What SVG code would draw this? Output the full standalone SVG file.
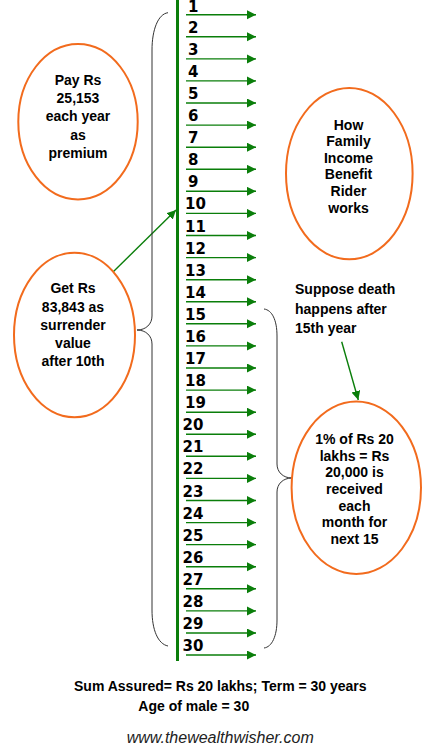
<svg xmlns="http://www.w3.org/2000/svg" width="428" height="751" viewBox="0 0 428 751">
<style>
.t{font-family:"Liberation Sans",Arial,sans-serif;font-weight:bold;font-size:14px;fill:#000}
.c{text-anchor:middle}
.n{font-family:"DejaVu Sans",sans-serif;font-weight:bold;font-size:15px;fill:#000}
.ell{fill:none;stroke:#F26B1D;stroke-width:2}
.arr{stroke:#0A7E0A;stroke-width:1.4;fill:none;marker-end:url(#ah)}
.brace{fill:none;stroke:#333;stroke-width:1}
.w{font-family:"Liberation Sans",Arial,sans-serif;font-style:italic;font-size:16px;fill:#222}
</style>
<defs>
<marker id="ah" markerUnits="userSpaceOnUse" markerWidth="10" markerHeight="10" refX="9" refY="4.5" orient="auto">
<path d="M0,0 L9,4.5 L0,9 z" fill="#0A7E0A"/>
</marker>
</defs>
<rect width="428" height="751" fill="#fff"/>
<g id="timeline">
<line x1="177.5" y1="0" x2="177.5" y2="661" stroke="#0A7E0A" stroke-width="3"/>
<g id="year-labels">
<text class="n" x="188" y="11.8">1</text>
<text class="n" x="188" y="32.8">2</text>
<text class="n" x="188" y="54.9">3</text>
<text class="n" x="188" y="76.9">4</text>
<text class="n" x="188" y="99">5</text>
<text class="n" x="188" y="121.1">6</text>
<text class="n" x="188" y="143.2">7</text>
<text class="n" x="188" y="165.3">8</text>
<text class="n" x="188" y="187.3">9</text>
<text class="n" x="185" y="209.4">10</text>
<text class="n" x="185" y="231.5">11</text>
<text class="n" x="185" y="253.6">12</text>
<text class="n" x="185" y="275.7">13</text>
<text class="n" x="185" y="297.7">14</text>
<text class="n" x="185" y="319.8">15</text>
<text class="n" x="185" y="341.9">16</text>
<text class="n" x="185" y="364">17</text>
<text class="n" x="185" y="386.1">18</text>
<text class="n" x="185" y="408.2">19</text>
<text class="n" x="182.5" y="430.2">20</text>
<text class="n" x="182.5" y="452.3">21</text>
<text class="n" x="182.5" y="474.4">22</text>
<text class="n" x="182.5" y="496.5">23</text>
<text class="n" x="182.5" y="518.6">24</text>
<text class="n" x="182.5" y="540.6">25</text>
<text class="n" x="182.5" y="562.7">26</text>
<text class="n" x="182.5" y="584.8">27</text>
<text class="n" x="182.5" y="606.9">28</text>
<text class="n" x="182.5" y="629">29</text>
<text class="n" x="182.5" y="651">30</text>
</g>
</g>
<g id="connectors">
<line class="arr" x1="186" y1="14.7" x2="256" y2="14.7"/>
<line class="arr" x1="186" y1="36.8" x2="256" y2="36.8"/>
<line class="arr" x1="186" y1="58.9" x2="256" y2="58.9"/>
<line class="arr" x1="186" y1="80.9" x2="256" y2="80.9"/>
<line class="arr" x1="186" y1="103" x2="256" y2="103"/>
<line class="arr" x1="186" y1="125.1" x2="256" y2="125.1"/>
<line class="arr" x1="186" y1="147.2" x2="256" y2="147.2"/>
<line class="arr" x1="186" y1="169.3" x2="256" y2="169.3"/>
<line class="arr" x1="186" y1="191.3" x2="256" y2="191.3"/>
<line class="arr" x1="186" y1="213.4" x2="256" y2="213.4"/>
<line class="arr" x1="186" y1="235.5" x2="256" y2="235.5"/>
<line class="arr" x1="186" y1="257.6" x2="256" y2="257.6"/>
<line class="arr" x1="186" y1="279.7" x2="256" y2="279.7"/>
<line class="arr" x1="186" y1="301.7" x2="256" y2="301.7"/>
<line class="arr" x1="186" y1="323.8" x2="256" y2="323.8"/>
<line class="arr" x1="186" y1="345.9" x2="256" y2="345.9"/>
<line class="arr" x1="186" y1="368" x2="256" y2="368"/>
<line class="arr" x1="186" y1="390.1" x2="256" y2="390.1"/>
<line class="arr" x1="186" y1="412.2" x2="256" y2="412.2"/>
<line class="arr" x1="186" y1="434.2" x2="256" y2="434.2"/>
<line class="arr" x1="186" y1="456.3" x2="256" y2="456.3"/>
<line class="arr" x1="186" y1="478.4" x2="256" y2="478.4"/>
<line class="arr" x1="186" y1="500.5" x2="256" y2="500.5"/>
<line class="arr" x1="186" y1="522.6" x2="256" y2="522.6"/>
<line class="arr" x1="186" y1="544.6" x2="256" y2="544.6"/>
<line class="arr" x1="186" y1="566.7" x2="256" y2="566.7"/>
<line class="arr" x1="186" y1="588.8" x2="256" y2="588.8"/>
<line class="arr" x1="186" y1="610.9" x2="256" y2="610.9"/>
<line class="arr" x1="186" y1="633" x2="256" y2="633"/>
<line class="arr" x1="186" y1="655" x2="256" y2="655"/>
<line class="arr" x1="113" y1="272" x2="176" y2="210"/>
<line class="arr" x1="341.7" y1="341.7" x2="358.3" y2="400"/>
<path class="brace" d="M168,12.7 C158,14 152,30 152,50 L152,316 C152,324 146,330 137,330 C146,330 152,336 152,344 L152,610 C152,630 158,644 168,646"/>
<path class="brace" d="M264,309 C272,310 277,320 277,336 L277,464 C277,472 283,478 292,478 C283,478 277,484 277,492 L277,620 C277,636 272,647 264,648"/>
</g>
<g id="premium">
<ellipse class="ell" cx="78" cy="121.7" rx="59.7" ry="77.7"/>
<text class="t c" x="78"><tspan x="78" y="85">Pay Rs</tspan><tspan x="78" y="103">25,153</tspan><tspan x="78" y="121">each year</tspan><tspan x="78" y="139.5">as</tspan><tspan x="78" y="158">premium</tspan></text>
</g>
<g id="surrender">
<ellipse class="ell" cx="74.5" cy="335" rx="60.5" ry="82.3"/>
<text class="t c" x="73"><tspan x="73" y="293">Get Rs</tspan><tspan x="73" y="311.5">83,843 as</tspan><tspan x="73" y="330">surrender</tspan><tspan x="73" y="348">value</tspan><tspan x="73" y="366">after 10th</tspan></text>
</g>
<g id="title">
<ellipse class="ell" cx="349.3" cy="173.6" rx="63.3" ry="85.7"/>
<text class="t c" x="348.5"><tspan x="348.5" y="129.5">How</tspan><tspan x="348.5" y="146">Family</tspan><tspan x="348.5" y="162.7">Income</tspan><tspan x="348.5" y="179.3">Benefit</tspan><tspan x="348.5" y="196">Rider</tspan><tspan x="348.5" y="212.5">works</tspan></text>
</g>
<g id="death-note">
<text class="t" x="295"><tspan x="295" y="294">Suppose death</tspan><tspan x="295" y="313.5">happens after</tspan><tspan x="295" y="333">15th year</tspan></text>
</g>
<g id="income">
<ellipse class="ell" cx="356.3" cy="487.8" rx="64.7" ry="86.2"/>
<text class="t c" x="354.5"><tspan x="354.5" y="443.5">1% of Rs 20</tspan><tspan x="354.5" y="460.5">lakhs = Rs</tspan><tspan x="354.5" y="477.3">20,000 is</tspan><tspan x="354.5" y="494">received</tspan><tspan x="354.5" y="510.5">each</tspan><tspan x="354.5" y="527">month for</tspan><tspan x="354.5" y="543.5">next 15</tspan></text>
</g>
<g id="footer">
<text class="t" x="74" y="690.5">Sum Assured= Rs 20 lakhs; Term = 30 years</text>
<text class="t" x="138.3" y="710.5">Age of male = 30</text>
<text class="w" x="126.7" y="742.5">www.thewealthwisher.com</text>
</g>
</svg>
